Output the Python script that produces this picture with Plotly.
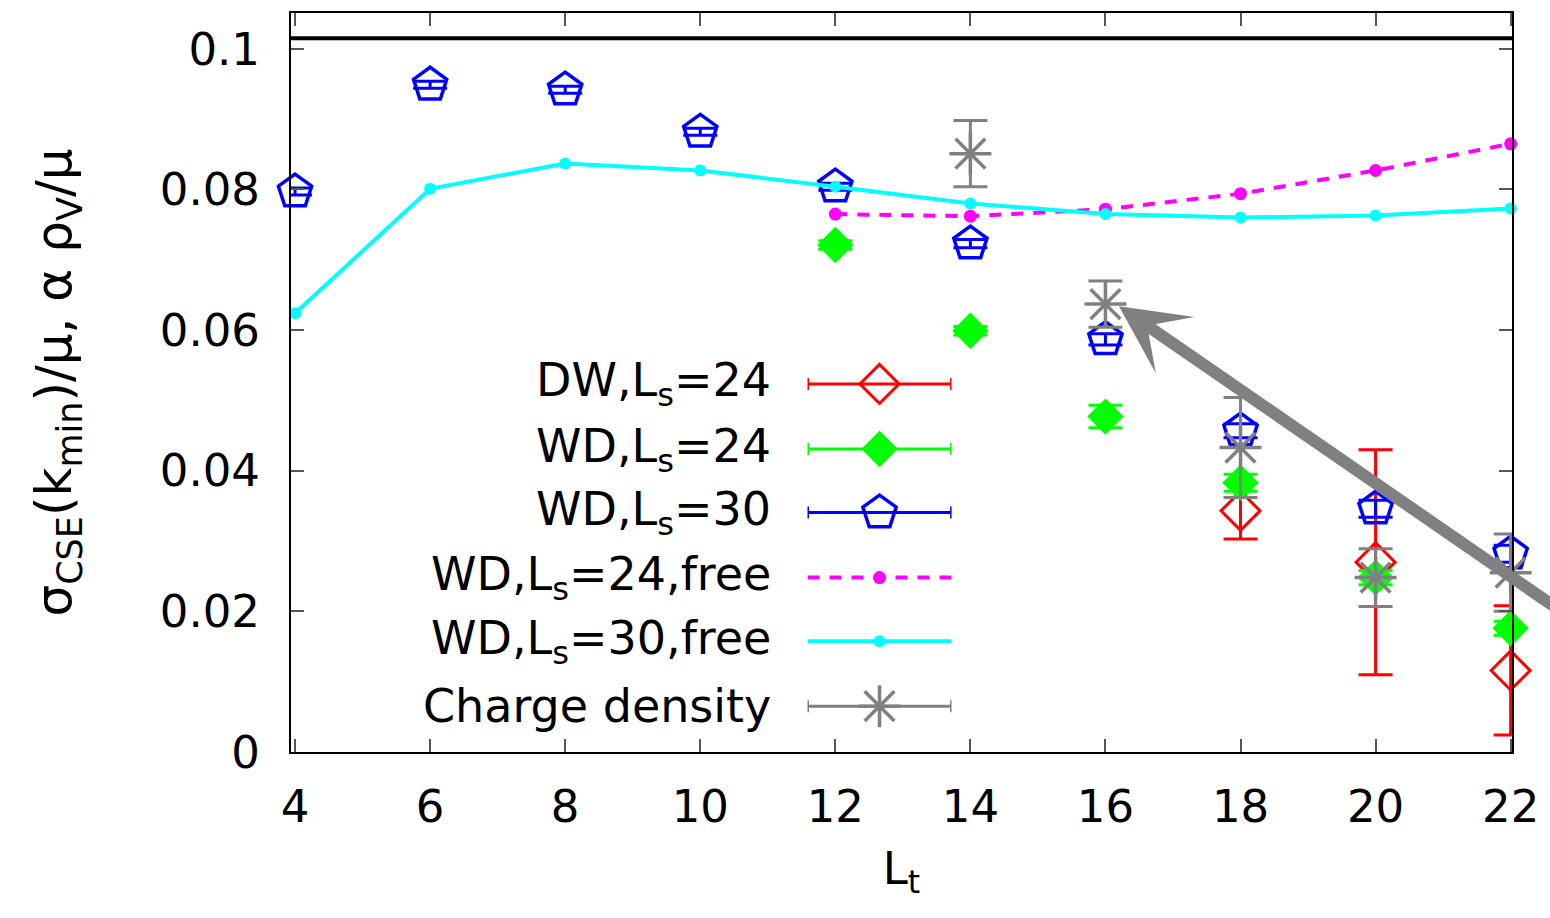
import plotly.graph_objects as go

# ---------------- data ----------------
LT_ALL = [4, 6, 8, 10, 12, 14, 16, 18, 20, 22]
LT_12 = [12, 14, 16, 18, 20, 22]
LT_14 = [14, 16, 18, 20, 22]
LT_18 = [18, 20, 22]

dw24_y = [0.0343, 0.0270, 0.0116]
dw24_err = [0.0040, 0.0160, 0.0092]

wd24_y = [0.0721, 0.0599, 0.0477, 0.0383, 0.0248, 0.0176]
wd24_err = [0.0006, 0.0006, 0.0016, 0.0012, 0.0010, 0.0010]

wd30_y = [0.0797, 0.0949, 0.0942, 0.0882, 0.0804, 0.0723, 0.0587, 0.0457, 0.0346, 0.0282]
wd30_err = [0.0005, 0.0005, 0.0005, 0.0005, 0.0005, 0.0006, 0.0008, 0.0010, 0.0012, 0.0012]

wd24_free = [0.0765, 0.0762, 0.0772, 0.0794, 0.0827, 0.0865]
wd30_free = [0.0624, 0.0801, 0.0837, 0.0827, 0.0804, 0.0780, 0.0765, 0.0760, 0.0763, 0.0773]

charge_y = [0.0851, 0.0637, 0.0433, 0.0248, 0.0255]
charge_err = [0.0047, 0.0033, 0.0071, 0.0041, 0.0055]

REF_LINE = 0.1015
ARROW_TIP = (16.2, 0.0634)
ARROW_TAIL = (22.75, 0.0200)

X_TICKS = [4, 6, 8, 10, 12, 14, 16, 18, 20, 22]
Y_TICKS = [0, 0.02, 0.04, 0.06, 0.08, 0.1]
Y_TICKTEXT = ["0", "0.02", "0.04", "0.06", "0.08", "0.1"]

LEGEND_LABELS = ["DW,L<sub>s</sub>=24", "WD,L<sub>s</sub>=24", "WD,L<sub>s</sub>=30",
                 "WD,L<sub>s</sub>=24,free", "WD,L<sub>s</sub>=30,free", "Charge density"]

# ---------------- style ----------------
RED, GREEN, BLUE = "#ff0000", "#00ff00", "#0000ff"
MAGENTA, CYAN, GRAY = "#ff00ff", "#00ffff", "#808080"
FONT = "DejaVu Sans"
FS = 45

fig = go.Figure()

def err(arr, color):
    return dict(type="data", array=arr, visible=True, color=color, thickness=3, width=17)

MK_RED = dict(symbol="diamond-open", size=30, color=RED, line=dict(width=3, color=RED))
MK_GREEN = dict(symbol="diamond", size=28, color=GREEN, line=dict(width=0))
MK_BLUE = dict(symbol="pentagon-open", size=35, color=BLUE, line=dict(width=3.5, color=BLUE))
MK_MAG = dict(symbol="circle", size=13, color=MAGENTA)
MK_CYAN = dict(symbol="circle", size=12, color=CYAN)
MK_GRAY = dict(symbol="asterisk-open", size=35, color=GRAY, line=dict(width=3.5, color=GRAY))

fig.add_trace(go.Scatter(x=LT_18, y=dw24_y, mode="markers", error_y=err(dw24_err, RED),
                         marker=MK_RED, cliponaxis=False, showlegend=False))
fig.add_trace(go.Scatter(x=LT_12, y=wd24_y, mode="markers", error_y=err(wd24_err, GREEN),
                         marker=MK_GREEN, cliponaxis=False, showlegend=False))
fig.add_trace(go.Scatter(x=LT_ALL, y=wd30_y, mode="markers", error_y=err(wd30_err, BLUE),
                         marker=MK_BLUE, cliponaxis=False, showlegend=False))
fig.add_trace(go.Scatter(x=LT_12, y=wd24_free, mode="lines+markers",
                         line=dict(color=MAGENTA, width=4, dash="12px,10px"),
                         marker=MK_MAG, cliponaxis=False, showlegend=False))
fig.add_trace(go.Scatter(x=LT_ALL, y=wd30_free, mode="lines+markers",
                         line=dict(color=CYAN, width=4),
                         marker=MK_CYAN, cliponaxis=False, showlegend=False))
fig.add_trace(go.Scatter(x=LT_14, y=charge_y, mode="markers", error_y=err(charge_err, GRAY),
                         marker=MK_GRAY, cliponaxis=False, showlegend=False))

# reference line
fig.add_shape(type="line", xref="paper", x0=0, x1=1, yref="y", y0=REF_LINE, y1=REF_LINE,
              line=dict(color="black", width=4))

# ---------------- manual legend (gnuplot style: text right, sample left) ----------------
ROWS = [0.498, 0.410, 0.324, 0.236, 0.150, 0.062]
leg_styles = [
    dict(kind="err", color=RED, marker=MK_RED),
    dict(kind="err", color=GREEN, marker=MK_GREEN),
    dict(kind="err", color=BLUE, marker=MK_BLUE),
    dict(kind="line", color=MAGENTA, dash="12px,10px", marker=MK_MAG),
    dict(kind="line", color=CYAN, dash="solid", marker=MK_CYAN),
    dict(kind="err", color=GRAY, marker=MK_GRAY),
]
for row, st, label in zip(ROWS, leg_styles, LEGEND_LABELS):
    if st["kind"] == "err":
        fig.add_trace(go.Scatter(x=[0.5], y=[row], xaxis="x2", yaxis="y2", mode="markers",
                                 marker=st["marker"],
                                 error_x=dict(type="data", array=[0.5], visible=True, color=st["color"],
                                              thickness=3, width=6),
                                 cliponaxis=False, showlegend=False, hoverinfo="skip"))
    else:
        fig.add_trace(go.Scatter(x=[0, 1], y=[row, row], xaxis="x2", yaxis="y2", mode="lines",
                                 line=dict(color=st["color"], width=4, dash=st["dash"]),
                                 cliponaxis=False, showlegend=False, hoverinfo="skip"))
        fig.add_trace(go.Scatter(x=[0.5], y=[row], xaxis="x2", yaxis="y2", mode="markers",
                                 marker=st["marker"], cliponaxis=False, showlegend=False, hoverinfo="skip"))
    fig.add_annotation(text=label, xref="paper", yref="y2", x=0.3944, y=row,
                       xanchor="right", yanchor="middle", showarrow=False,
                       font=dict(family=FONT, size=46, color="black"))

# arrow
fig.add_annotation(x=ARROW_TIP[0], y=ARROW_TIP[1], ax=ARROW_TAIL[0], ay=ARROW_TAIL[1],
                   xref="x", yref="y", axref="x", ayref="y", text="", showarrow=True,
                   arrowhead=3, arrowwidth=12, arrowsize=0.95, arrowcolor=GRAY)

axis_common = dict(showline=True, linecolor="black", linewidth=2, mirror="ticks",
                   ticks="inside", ticklen=13, tickwidth=2, tickcolor="#555555",
                   showgrid=False, zeroline=False,
                   tickfont=dict(family=FONT, size=FS, color="black"))

fig.update_layout(
    width=1550, height=918,
    margin=dict(l=291, r=37, t=11, b=166),
    paper_bgcolor="white", plot_bgcolor="rgba(0,0,0,0)",
    xaxis=dict(range=[3.94, 22.02], tickvals=X_TICKS, ticktext=[str(v) for v in X_TICKS],
               ticklabelstandoff=14,
               title=dict(text="L<sub>t</sub>", font=dict(family=FONT, size=FS, color="black"), standoff=20),
               **axis_common),
    yaxis=dict(range=[0, 0.1051], tickvals=Y_TICKS, ticktext=Y_TICKTEXT,
               ticklabelstandoff=20,
               title=dict(text="σ<sub>CSE</sub>(k<sub>min</sub>)/μ, α ρ<sub>V</sub>/μ",
                          font=dict(family=FONT, size=50, color="black"), standoff=72),
               **axis_common),
    xaxis2=dict(domain=[0.423, 0.541], range=[0, 1], visible=False, anchor="y2"),
    yaxis2=dict(domain=[0, 1], range=[0, 1], visible=False, anchor="x2"),
)

fig.write_html("out.html")
